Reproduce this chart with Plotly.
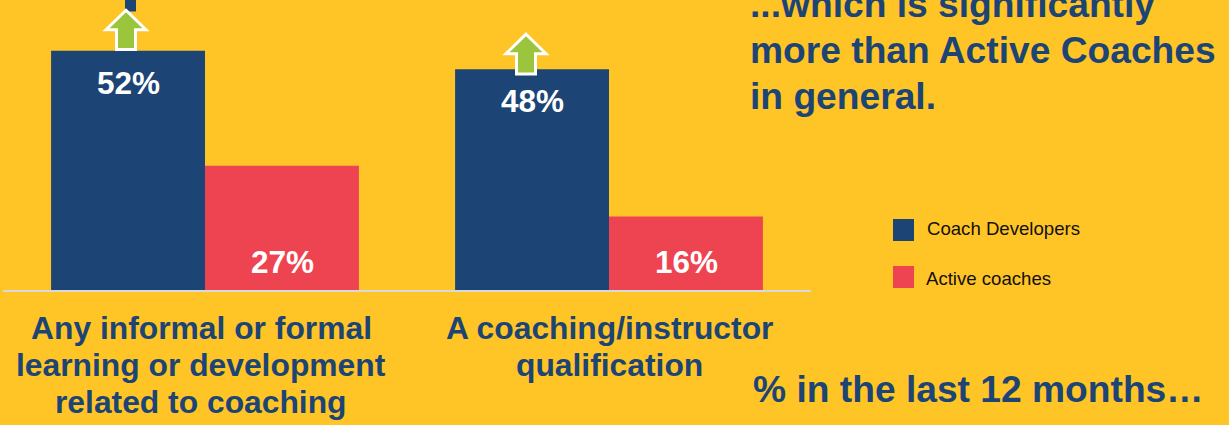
import plotly.graph_objects as go

categories = ["Any informal or formal<br>learning or development<br>related to coaching",
              "A coaching/instructor<br>qualification"]
coach_developers = [52, 48]
active_coaches = [27, 16]
series_names = ["Coach Developers", "Active coaches"]
heading = ["...which is significantly", "more than Active Coaches", "in general."]
footer = "% in the last 12 months…"

BG = "#FFC425"
NAVY = "#1C4475"
RED = "#EE4452"
GREEN = "#9BC53D"
FONT = "Liberation Sans"
W, H = 1229, 425
L, R, B = 3, 418, 135
ymax = 290 / 4.6


def px(x):
    return (x - L) / (W - L - R)


def py(y):
    return 1 - y / (H - B)


fig = go.Figure()
fig.add_bar(name=series_names[0], x=categories, y=coach_developers, marker_color=NAVY,
            marker_line_width=0)
fig.add_bar(name=series_names[1], x=categories, y=active_coaches, marker_color=RED,
            marker_line_width=0)

ann = []
for i, (a, b) in enumerate(zip(coach_developers, active_coaches)):
    ann.append(dict(x=i, y=a, xref="x", yref="y", text=f"<b>{a}%</b>", showarrow=False,
                    xshift=-77, yshift=-32, font=dict(size=31.5, color="white", family=FONT)))
    ann.append(dict(x=i, y=0, xref="x", yref="y", text=f"<b>{b}%</b>", showarrow=False,
                    xshift=77, yshift=28.5, font=dict(size=31.5, color="white", family=FONT)))

# Category labels, line by line for the tight leading
for i, (c, dx) in enumerate(zip(categories, [-4, 0])):
    for j, line in enumerate(c.split("<br>")):
        ann.append(dict(x=i, y=0, xref="x", yref="y", text=f"<b>{line}</b>", showarrow=False,
                        xshift=dx, yshift=-38 - 37 * j, yanchor="middle", xanchor="center",
                        font=dict(size=31.8, color=NAVY, family=FONT)))

# Heading lines
for line, yc in zip(heading, [4.5, 50, 95.5]):
    ann.append(dict(x=px(748), y=py(yc), xref="paper", yref="paper", text=f"<b>{line}</b>",
                    showarrow=False, xanchor="left", yanchor="middle",
                    font=dict(size=37.2, color=NAVY, family=FONT)))
ann.append(dict(x=px(751), y=py(389), xref="paper", yref="paper", text=f"<b>{footer}</b>",
                showarrow=False, xanchor="left", yanchor="middle",
                font=dict(size=37.2, color=NAVY, family=FONT)))

# Legend text
for name, xl, yc in zip(series_names, [925, 924], [228, 278]):
    ann.append(dict(x=px(xl), y=py(yc), xref="paper", yref="paper", text=name,
                    showarrow=False, xanchor="left", yanchor="middle",
                    font=dict(size=18.6, color="#111111", family=FONT)))

shapes = []
# Legend swatches
for color, (y0, y1) in zip([NAVY, RED], [(219, 241), (266, 288)]):
    shapes.append(dict(type="rect", xref="paper", yref="paper", x0=px(893), x1=px(914),
                       y0=py(y1), y1=py(y0), fillcolor=color, line_width=0))

# Stub at the top edge
shapes.append(dict(type="rect", xref="paper", yref="paper", x0=px(125), x1=px(136),
                   y0=py(11.5), y1=py(0), fillcolor=NAVY, line_width=0))


def arrow_path(cx, top, bottom):
    head = top + 19.5
    return (f"M{cx},{-top} L{cx + 20},{-head} L{cx + 9.5},{-head} L{cx + 9.5},{-bottom} "
            f"L{cx - 9.5},{-bottom} L{cx - 9.5},{-head} L{cx - 20},{-head} Z")


# Up arrows, anchored to each category's Coach Developers bar top
for i, (v, dx, top, bottom) in enumerate(zip(coach_developers, [-79, -83], [-40.5, -35], [-1.3, 4.8])):
    shapes.append(dict(type="path", xref="x", yref="y", xsizemode="pixel", ysizemode="pixel",
                       xanchor=i, yanchor=v, path=arrow_path(dx, top, bottom),
                       fillcolor=GREEN, line=dict(color="white", width=3)))

fig.update_layout(
    width=W, height=H, autosize=False,
    margin=dict(l=L, r=R, t=0, b=B, pad=0),
    paper_bgcolor=BG, plot_bgcolor=BG,
    barmode="group", bargap=0.238, bargroupgap=0,
    showlegend=False,
    xaxis=dict(showticklabels=False, ticks="", showgrid=False, zeroline=False,
               showline=True, linecolor="#D9D9D9", linewidth=2),
    yaxis=dict(range=[0, ymax], visible=False),
    annotations=ann, shapes=shapes,
    font=dict(family=FONT),
)

fig.write_html("out.html", config={"displayModeBar": False},
               post_script="document.body.style.margin='0';document.body.style.background='%s';" % BG)
